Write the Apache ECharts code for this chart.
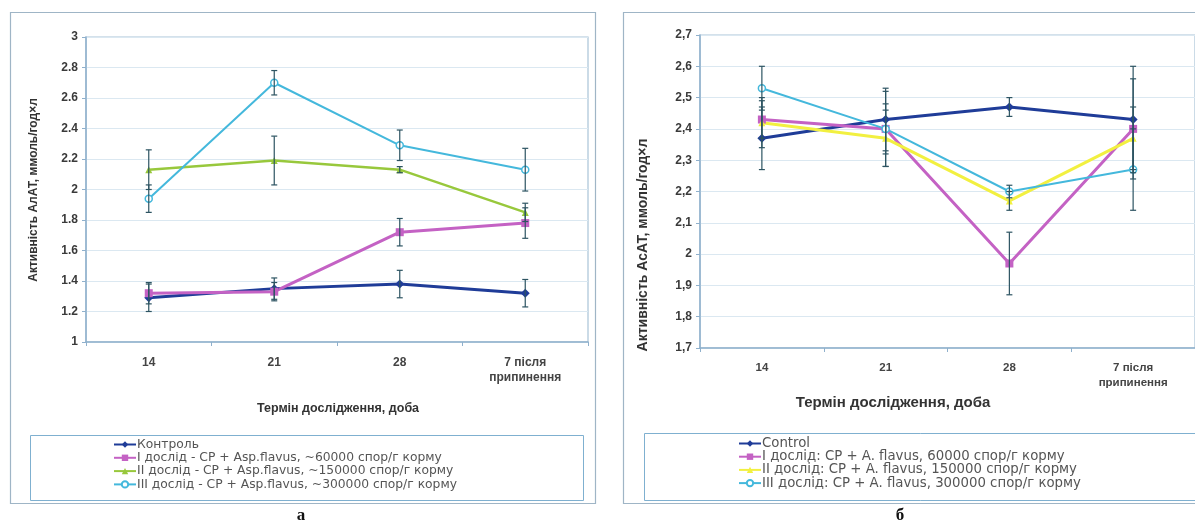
<!DOCTYPE html>
<html><head><meta charset="utf-8">
<script src="https://cdn.jsdelivr.net/npm/echarts@6/dist/echarts.min.js"></script>
<style>html,body{margin:0;padding:0;background:#fff}#c{width:1195px;height:530px}</style>
</head><body><div id="c"></div>
<script>
// ---- data ----
var categories = ['14', '21', '28', '7 після\nприпинення'];

var leftNames = ['Контроль',
  'I дослід - СР + Asp.flavus, ~60000 спор/г корму',
  'II дослід - СР + Asp.flavus, ~150000 спор/г корму',
  'III дослід - СР + Asp.flavus, ~300000 спор/г корму'];
var leftControl = [1.29, 1.35, 1.38, 1.32];
var leftControlErr = [0.09, 0.07, 0.09, 0.09];
var leftI = [1.32, 1.33, 1.72, 1.78];
var leftIErr = [0.07, 0.06, 0.09, 0.10];
var leftII = [2.13, 2.19, 2.13, 1.85];
var leftIIErr = [0.13, 0.16, 0.02, 0.06];
var leftIII = [1.94, 2.70, 2.29, 2.13];
var leftIIIErr = [0.09, 0.08, 0.10, 0.14];

var rightNames = ['Control',
  'I дослід: СР + A. flavus, 60000 спор/г корму',
  'II дослід: СР + A. flavus, 150000 спор/г корму',
  'III дослід: СР + A. flavus, 300000 спор/г корму'];
var rightControl = [2.37, 2.43, 2.47, 2.43];
var rightControlErr = [0.10, 0.10, 0.03, 0.17];
var rightI = [2.43, 2.40, 1.97, 2.40];
var rightIErr = [0.06, 0.08, 0.10, 0.16];
var rightII = [2.42, 2.37, 2.17, 2.37];
var rightIIErr = [0.08, 0.09, 0.03, 0.10];
var rightIII = [2.53, 2.40, 2.20, 2.27];
var rightIIIErr = [0.07, 0.12, 0.02, 0.13];

var leftTicks = {min: 1, max: 3, interval: 0.2};
var rightTicks = {min: 1.7, max: 2.7, interval: 0.1};

// ---- styles ----
var colControl = '#1f3c98', colI = '#c462c4', colII = '#98c83c', colIII = '#44b8dc', colIIy = '#f2f040';
var errCol = '#2d5462';
var txt = '#3a3a3a';

function errData(vals, errs) {
  return vals.map(function (v, i) { return [i, +(v - errs[i]).toFixed(3), +(v + errs[i]).toFixed(3)]; });
}
function errSeries(idx, vals, errs) {
  return {
    type: 'custom', xAxisIndex: idx, yAxisIndex: idx, z: 5, silent: true,
    data: errData(vals, errs), encode: {x: 0, y: [1, 2]},
    renderItem: function (params, api) {
      var x = api.value(0);
      var lo = api.coord([x, api.value(1)]);
      var hi = api.coord([x, api.value(2)]);
      var w = 3;
      var st = {stroke: errCol, lineWidth: 1.2};
      return {type: 'group', children: [
        {type: 'line', shape: {x1: lo[0], y1: lo[1], x2: hi[0], y2: hi[1]}, style: st},
        {type: 'line', shape: {x1: lo[0] - w, y1: lo[1], x2: lo[0] + w, y2: lo[1]}, style: st},
        {type: 'line', shape: {x1: hi[0] - w, y1: hi[1], x2: hi[0] + w, y2: hi[1]}, style: st}
      ]};
    }
  };
}
function lineSeries(idx, name, vals, color, symbol, size, width, empty) {
  return {
    type: 'line', name: name, xAxisIndex: idx, yAxisIndex: idx, data: vals, z: 3,
    symbol: symbol, symbolSize: size, showAllSymbol: true,
    lineStyle: {color: color, width: width},
    itemStyle: {color: empty ? '#ffffff' : color, borderColor: color, borderWidth: empty ? 1.5 : 0}
  };
}
function xAxis(idx, fs) {
  return {
    type: 'category', gridIndex: idx, data: categories, boundaryGap: true,
    axisLine: {lineStyle: {color: '#8fb0cc', width: 1.5}},
    axisTick: {show: true, alignWithLabel: false, length: 4, lineStyle: {color: '#8fb0cc'}},
    axisLabel: {color: '#444', fontSize: fs, fontWeight: 'bold', fontFamily: 'Arial', margin: 13, lineHeight: fs + 3},
    splitLine: {show: false}
  };
}
function yAxis(idx, t, fmt) {
  return {
    type: 'value', gridIndex: idx, min: t.min, max: t.max, interval: t.interval,
    axisLine: {show: true, lineStyle: {color: '#8fb0cc', width: 1.5}},
    axisTick: {show: true, length: 4, lineStyle: {color: '#8fb0cc'}},
    axisLabel: {color: txt, fontSize: 12, fontWeight: 'bold', fontFamily: 'Arial', margin: 8, formatter: fmt},
    splitLine: {show: true, lineStyle: {color: '#dbe8f1', width: 1}}
  };
}

var chart = echarts.init(document.getElementById('c'));
chart.setOption({
  backgroundColor: '#fff',
  animation: false,
  grid: [
    {left: 86, top: 37, width: 502, height: 305, show: true, borderColor: '#a9c4d8', borderWidth: 1.2, backgroundColor: '#fff'},
    {left: 700, top: 35, width: 499, height: 313, show: true, borderColor: '#a9c4d8', borderWidth: 1.2, backgroundColor: '#fff'}
  ],
  xAxis: [xAxis(0, 12), xAxis(1, 11.5)],
  yAxis: [
    yAxis(0, leftTicks, function (v) { return String(+v.toFixed(1)); }),
    yAxis(1, rightTicks, function (v) { return String(+v.toFixed(1)).replace('.', ','); })
  ],
  legend: [
    {data: leftNames, orient: 'vertical', left: 113, top: 438, itemWidth: 22, itemHeight: 8, itemGap: 0.3,
      textStyle: {color: '#555', fontSize: 12.3, lineHeight: 13, fontFamily: 'DejaVu Sans', padding: [0, 0, 0, -4]}, padding: 0},
    {data: rightNames, orient: 'vertical', left: 738, top: 437, itemWidth: 22, itemHeight: 8, itemGap: 0.2,
      textStyle: {color: '#555', fontSize: 13.3, lineHeight: 13, fontFamily: 'DejaVu Sans', padding: [0, 0, 0, -4]}, padding: 0}
  ],
  series: [
    lineSeries(0, leftNames[0], leftControl, colControl, 'diamond', 9, 3),
    lineSeries(0, leftNames[1], leftI, colI, 'rect', 8, 3),
    lineSeries(0, leftNames[2], leftII, colII, 'triangle', 7, 2.5),
    lineSeries(0, leftNames[3], leftIII, colIII, 'circle', 7, 2, true),
    errSeries(0, leftControl, leftControlErr),
    errSeries(0, leftI, leftIErr),
    errSeries(0, leftII, leftIIErr),
    errSeries(0, leftIII, leftIIIErr),
    lineSeries(1, rightNames[0], rightControl, colControl, 'diamond', 9, 3),
    lineSeries(1, rightNames[1], rightI, colI, 'rect', 8, 3),
    lineSeries(1, rightNames[2], rightII, colIIy, 'triangle', 7, 3),
    lineSeries(1, rightNames[3], rightIII, colIII, 'circle', 7, 2, true),
    errSeries(1, rightControl, rightControlErr),
    errSeries(1, rightI, rightIErr),
    errSeries(1, rightII, rightIIErr),
    errSeries(1, rightIII, rightIIIErr)
  ],
  graphic: [
    {type: 'rect', z: -10, shape: {x: 10.5, y: 12.5, width: 585, height: 491}, style: {fill: 'none', stroke: '#9fb5c6', lineWidth: 1.2}},
    {type: 'rect', z: -10, shape: {x: 623.5, y: 12.5, width: 590, height: 491}, style: {fill: 'none', stroke: '#9fb5c6', lineWidth: 1.2}},
    {type: 'rect', z: -5, shape: {x: 30.5, y: 435.5, width: 553, height: 65}, style: {fill: 'none', stroke: '#7fb0d0', lineWidth: 1}},
    {type: 'rect', z: -5, shape: {x: 644.5, y: 433.5, width: 570, height: 67}, style: {fill: 'none', stroke: '#7fb0d0', lineWidth: 1}},
    {type: 'text', x: 34, y: 190, rotation: Math.PI / 2, style: {text: 'Активність АлАТ, ммоль/год×л', fill: '#333', font: 'bold 12px Arial', align: 'center', verticalAlign: 'middle'}},
    {type: 'text', x: 643, y: 245, rotation: Math.PI / 2, style: {text: 'Активність АсАТ, ммоль/год×л', fill: '#333', font: 'bold 14px Arial', align: 'center', verticalAlign: 'middle'}},
    {type: 'text', x: 338, y: 409, style: {text: 'Термін дослідження, доба', fill: '#333', font: 'bold 12.5px Arial', align: 'center', verticalAlign: 'middle'}},
    {type: 'text', x: 893, y: 403, style: {text: 'Термін дослідження, доба', fill: '#333', font: 'bold 15px Arial', align: 'center', verticalAlign: 'middle'}},
    {type: 'text', x: 301, y: 516, style: {text: 'а', fill: '#111', font: 'bold 17px "Liberation Serif"', align: 'center', verticalAlign: 'middle'}},
    {type: 'text', x: 900, y: 516, style: {text: 'б', fill: '#111', font: 'bold 17px "Liberation Serif"', align: 'center', verticalAlign: 'middle'}}
  ]
});
</script></body></html>
